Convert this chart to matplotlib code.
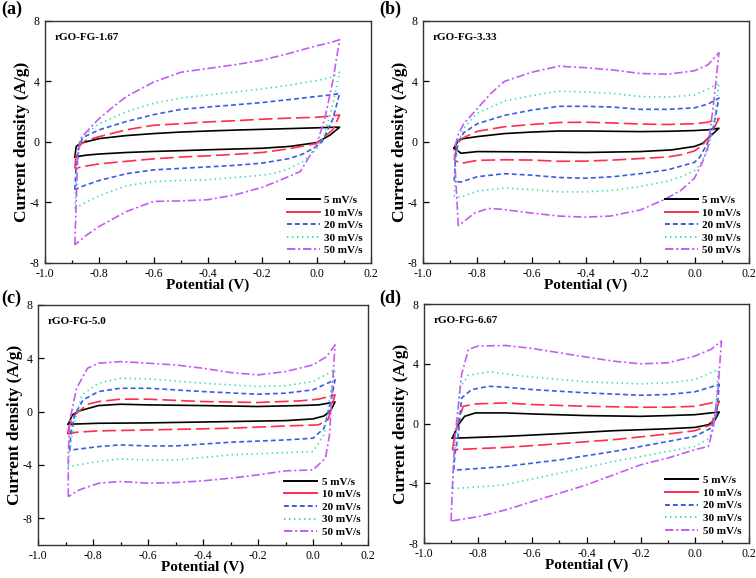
import matplotlib

matplotlib.use("Agg")

import matplotlib.pyplot as plt
from matplotlib.lines import Line2D
from matplotlib.ticker import MultipleLocator

RATES = ["5 mV/s", "10 mV/s", "20 mV/s", "30 mV/s", "50 mV/s"]
SAMPLES = ["rGO-FG-1.67", "rGO-FG-3.33", "rGO-FG-5.0", "rGO-FG-6.67"]
PANEL_TAGS = ["(a)", "(b)", "(c)", "(d)"]

# each loop: anodic branch left->right, then cathodic branch back to the start
POT_A = [
    [-0.89, -0.885, -0.87, -0.85, -0.8, -0.7, -0.6, -0.5, -0.4, -0.3, -0.2, -0.1, 0.0, 0.05, 0.085,
     0.05, 0.0, -0.1, -0.2, -0.3, -0.4, -0.5, -0.6, -0.7, -0.8, -0.85, -0.89],
    [-0.89, -0.885, -0.87, -0.85, -0.8, -0.7, -0.6, -0.5, -0.4, -0.3, -0.2, -0.1, 0.0, 0.05, 0.085,
     0.06, 0.0, -0.1, -0.2, -0.3, -0.4, -0.5, -0.6, -0.7, -0.8, -0.85, -0.89],
    [-0.89, -0.885, -0.875, -0.86, -0.8, -0.7, -0.6, -0.5, -0.4, -0.3, -0.2, -0.1, 0.0, 0.05, 0.085,
     0.06, 0.02, 0.0, -0.05, -0.1, -0.15, -0.2, -0.3, -0.4, -0.5, -0.6, -0.7, -0.8, -0.85, -0.89],
    [-0.89, -0.885, -0.875, -0.86, -0.8, -0.7, -0.6, -0.5, -0.4, -0.3, -0.2, -0.1, 0.0, 0.05, 0.085,
     0.06, 0.03, 0.0, -0.05, -0.1, -0.15, -0.2, -0.3, -0.4, -0.5, -0.6, -0.7, -0.8, -0.85, -0.89],
    [-0.89, -0.885, -0.88, -0.87, -0.82, -0.8, -0.75, -0.7, -0.6, -0.5, -0.4, -0.3, -0.2, -0.1, 0.0, 0.05, 0.085,
     0.06, 0.03, 0.0, -0.06, -0.13, -0.2, -0.3, -0.4, -0.5, -0.6, -0.7, -0.8, -0.85, -0.89],
]
CUR_A = [
    [-1.0, -0.3, -0.1, 0.0, 0.22, 0.42, 0.55, 0.65, 0.72, 0.78, 0.83, 0.88, 0.93, 0.96, 0.97,
     0.45, -0.05, -0.3, -0.42, -0.47, -0.52, -0.58, -0.63, -0.7, -0.8, -0.88, -1.0],
    [-1.75, -0.8, -0.2, 0.1, 0.35, 0.8, 1.1, 1.2, 1.32, 1.4, 1.5, 1.57, 1.63, 1.7, 1.78,
     0.8, -0.1, -0.45, -0.7, -0.82, -0.92, -1.0, -1.12, -1.28, -1.45, -1.6, -1.75],
    [-3.15, -1.5, -0.3, 0.3, 0.8, 1.35, 1.8, 2.15, 2.3, 2.45, 2.6, 2.8, 3.0, 3.1, 3.2,
     1.5, 0.0, -0.3, -0.8, -1.1, -1.25, -1.4, -1.55, -1.65, -1.75, -1.85, -2.1, -2.55, -2.85, -3.15],
    [-4.4, -2.5, -0.5, 0.4, 1.2, 2.0, 2.55, 2.9, 3.1, 3.3, 3.5, 3.75, 4.05, 4.25, 4.6,
     2.5, 0.5, -0.5, -1.3, -1.75, -2.05, -2.2, -2.35, -2.5, -2.55, -2.62, -2.9, -3.55, -4.0, -4.4],
    [-6.8, -4.0, -1.0, 0.2, 1.2, 1.55, 2.3, 3.0, 3.95, 4.6, 4.85, 5.1, 5.4, 5.85, 6.35, 6.55, 6.75,
     4.0, 1.5, -0.2, -1.96, -2.5, -3.0, -3.5, -3.82, -3.9, -3.93, -4.6, -5.58, -6.2, -6.8],
]

POT_B = [
    [-0.885, -0.87, -0.85, -0.8, -0.7, -0.6, -0.5, -0.4, -0.3, -0.2, -0.1, 0.0, 0.05, 0.09,
     0.05, 0.03, 0.0, -0.085, -0.2, -0.4, -0.6, -0.8, -0.86, -0.885],
    [-0.885, -0.875, -0.86, -0.8, -0.7, -0.6, -0.5, -0.4, -0.3, -0.2, -0.1, 0.0, 0.05, 0.09,
     0.06, 0.03, 0.0, -0.05, -0.1, -0.2, -0.3, -0.4, -0.5, -0.6, -0.7, -0.8, -0.86, -0.885],
    [-0.885, -0.88, -0.87, -0.85, -0.8, -0.7, -0.6, -0.5, -0.4, -0.3, -0.2, -0.1, 0.0, 0.05, 0.09,
     0.07, 0.05, 0.02, 0.0, -0.05, -0.1, -0.2, -0.3, -0.4, -0.5, -0.6, -0.7, -0.8, -0.86, -0.885],
    [-0.885, -0.88, -0.87, -0.85, -0.8, -0.7, -0.6, -0.5, -0.4, -0.3, -0.2, -0.1, 0.0, 0.05, 0.09,
     0.07, 0.05, 0.02, 0.0, -0.05, -0.1, -0.2, -0.3, -0.4, -0.5, -0.6, -0.7, -0.8, -0.86, -0.885],
    [-0.87, -0.885, -0.87, -0.85, -0.8, -0.75, -0.7, -0.6, -0.5, -0.4, -0.3, -0.2, -0.1, 0.0, 0.05, 0.09,
     0.07, 0.05, 0.03, 0.0, -0.05, -0.11, -0.2, -0.31, -0.4, -0.5, -0.6, -0.71, -0.76, -0.81, -0.87],
]
CUR_B = [
    [-0.4, 0.1, 0.22, 0.35, 0.55, 0.65, 0.72, 0.72, 0.7, 0.68, 0.7, 0.75, 0.8, 0.9,
     0.24, -0.1, -0.3, -0.53, -0.64, -0.7, -0.66, -0.64, -0.75, -0.4],
    [-1.2, -0.3, 0.2, 0.7, 1.0, 1.15, 1.28, 1.3, 1.25, 1.18, 1.15, 1.2, 1.3, 1.55,
     0.5, -0.2, -0.6, -0.85, -1.0, -1.1, -1.2, -1.27, -1.28, -1.2, -1.18, -1.22, -1.42, -1.2],
    [-2.6, -1.0, 0.0, 0.6, 1.2, 1.75, 2.1, 2.35, 2.35, 2.3, 2.15, 2.15, 2.25, 2.5, 2.9,
     1.0, 0.0, -1.0, -1.35, -1.6, -1.85, -2.1, -2.3, -2.4, -2.35, -2.2, -2.1, -2.3, -2.65, -2.6],
    [-3.6, -1.5, 0.0, 0.9, 1.9, 2.7, 3.05, 3.35, 3.3, 3.2, 3.0, 2.95, 3.1, 3.5, 3.9,
     1.0, -0.5, -1.5, -1.9, -2.3, -2.6, -2.95, -3.2, -3.3, -3.3, -3.15, -3.05, -3.25, -3.65, -3.6],
    [-5.55, -0.5, 0.5, 1.2, 2.2, 3.2, 4.0, 4.6, 5.0, 4.9, 4.75, 4.52, 4.47, 4.7, 5.1, 5.9,
     2.5, -0.3, -1.3, -2.4, -3.2, -3.8, -4.5, -4.9, -4.97, -4.9, -4.7, -4.45, -4.4, -4.7, -5.55],
]

POT_C = [
    [-0.89, -0.875, -0.85, -0.78, -0.7, -0.6, -0.4, -0.2, -0.05, 0.02, 0.08,
     0.065, 0.04, 0.0, -0.1, -0.3, -0.6, -0.78, -0.89],
    [-0.893, -0.885, -0.867, -0.82, -0.78, -0.7, -0.6, -0.4, -0.2, -0.05, 0.02, 0.08,
     0.055, 0.02, -0.1, -0.3, -0.6, -0.78, -0.86, -0.893],
    [-0.885, -0.88, -0.867, -0.836, -0.78, -0.7, -0.6, -0.4, -0.2, -0.1, 0.0, 0.08,
     0.065, 0.04, 0.0, -0.1, -0.3, -0.5, -0.6, -0.7, -0.78, -0.885],
    [-0.89, -0.88, -0.867, -0.84, -0.78, -0.7, -0.6, -0.4, -0.2, -0.1, 0.0, 0.08,
     0.06, 0.04, 0.0, -0.1, -0.3, -0.5, -0.6, -0.7, -0.78, -0.89],
    [-0.89, -0.89, -0.885, -0.86, -0.82, -0.78, -0.7, -0.6, -0.5, -0.4, -0.3, -0.2, -0.1, 0.0, 0.05, 0.08,
     0.07, 0.06, 0.045, 0.0, -0.1, -0.2, -0.3, -0.4, -0.5, -0.6, -0.7, -0.78, -0.85, -0.89],
]
CUR_C = [
    [-0.95, -0.25, 0.05, 0.45, 0.55, 0.5, 0.45, 0.38, 0.45, 0.5, 0.72,
     0.1, -0.33, -0.55, -0.68, -0.75, -0.85, -0.88, -0.95],
    [-1.68, -1.0, -0.25, 0.55, 0.75, 0.93, 0.93, 0.75, 0.68, 0.8, 0.93, 1.25,
     -0.6, -1.0, -1.08, -1.25, -1.38, -1.45, -1.55, -1.68],
    [-2.9, -1.5, -0.25, 0.88, 1.5, 1.75, 1.75, 1.5, 1.3, 1.38, 1.63, 2.38,
     0.75, -1.25, -2.0, -2.13, -2.3, -2.58, -2.58, -2.5, -2.63, -2.9],
    [-4.13, -2.25, -0.75, 1.25, 2.13, 2.5, 2.45, 2.13, 1.88, 1.95, 2.25, 3.13,
     1.0, -1.75, -3.0, -3.08, -3.25, -3.63, -3.63, -3.55, -3.75, -4.13],
    [-6.38, -3.25, -0.75, 1.75, 3.25, 3.63, 3.75, 3.63, 3.5, 3.25, 2.93, 2.75, 3.0, 3.5, 4.13, 5.0,
     1.75, -1.75, -3.5, -4.38, -4.45, -4.75, -5.0, -5.2, -5.33, -5.38, -5.25, -5.38, -5.88, -6.38],
]

POT_D = [
    [-0.895, -0.873, -0.85, -0.81, -0.7, -0.6, -0.4, -0.2, -0.1, 0.0, 0.09,
     0.075, 0.05, 0.0, -0.1, -0.3, -0.5, -0.7, -0.873, -0.895],
    [-0.895, -0.886, -0.873, -0.855, -0.81, -0.7, -0.6, -0.4, -0.2, -0.1, 0.0, 0.09,
     0.06, 0.0, -0.1, -0.3, -0.5, -0.7, -0.873, -0.895],
    [-0.89, -0.886, -0.873, -0.861, -0.824, -0.76, -0.7, -0.6, -0.4, -0.2, -0.1, 0.0, 0.09,
     0.08, 0.06, 0.0, -0.1, -0.3, -0.5, -0.7, -0.873, -0.89],
    [-0.895, -0.892, -0.88, -0.867, -0.836, -0.76, -0.7, -0.6, -0.4, -0.2, -0.1, 0.0, 0.086,
     0.075, 0.055, 0.0, -0.1, -0.3, -0.5, -0.7, -0.873, -0.895],
    [-0.9, -0.895, -0.886, -0.861, -0.836, -0.8, -0.7, -0.6, -0.5, -0.4, -0.3, -0.2, -0.1, 0.0, 0.06, 0.098,
     0.086, 0.068, 0.05, 0.0, -0.1, -0.2, -0.3, -0.4, -0.5, -0.6, -0.7, -0.8, -0.9],
]
CUR_D = [
    [-0.96, -0.07, 0.49, 0.72, 0.72, 0.65, 0.54, 0.49, 0.54, 0.6, 0.78,
     0.27, -0.07, -0.25, -0.34, -0.47, -0.67, -0.85, -0.96, -0.96],
    [-1.74, -0.74, 0.16, 1.16, 1.32, 1.39, 1.28, 1.16, 1.1, 1.1, 1.16, 1.5,
     -0.07, -0.47, -0.69, -1.07, -1.34, -1.59, -1.72, -1.74],
    [-3.09, -2.08, -0.74, 1.72, 2.28, 2.5, 2.44, 2.28, 2.06, 1.9, 1.95, 2.13, 2.62,
     0.6, -0.29, -0.85, -1.19, -1.86, -2.42, -2.86, -3.09, -3.09],
    [-4.32, -2.75, -0.96, 2.4, 3.24, 3.47, 3.33, 3.11, 2.8, 2.66, 2.73, 2.95, 3.62,
     0.6, -0.96, -1.52, -1.86, -2.53, -3.31, -4.09, -4.32, -4.32],
    [-6.51, -4.3, -0.96, 3.29, 4.97, 5.19, 5.23, 5.03, 4.74, 4.45, 4.18, 4.0, 4.07, 4.52, 4.97, 5.53,
     2.4, -0.29, -1.52, -1.74, -2.3, -2.75, -3.42, -4.09, -4.65, -5.21, -5.77, -6.22, -6.51],
]

Y_LIMITS = [(-8, 8), (-8, 8), (-10, 8), (-8, 8)]

COLORS = ["#000000", "#ff2d4f", "#3a5ce0", "#33e0a8", "#c45cf2"]
DASHES = [None, (10, 3.5), (3.5, 2.2), (1, 2.6), (6, 2, 1.5, 2)]

# axes boxes in figure fractions (left, bottom, width, height)
BOXES = [
    (0.0595, 0.545, 0.431, 0.419),
    (0.5595, 0.545, 0.431, 0.419),
    (0.0503, 0.0574, 0.4365, 0.415),
    (0.5608, 0.0600, 0.430, 0.414),
]
TAG_POS = [(0.002, 0.998), (0.502, 0.998), (0.002, 0.498), (0.502, 0.498)]

plt.rcParams["font.family"] = ["Liberation Serif", "DejaVu Serif"]
plt.rcParams["axes.unicode_minus"] = False
plt.rcParams["lines.scale_dashes"] = False

fig = plt.figure(figsize=(7.56, 5.78), dpi=100)

all_pot = [POT_A, POT_B, POT_C, POT_D]
all_cur = [CUR_A, CUR_B, CUR_C, CUR_D]

for k in range(4):
    ax = fig.add_axes(BOXES[k])
    for j in range(5):
        line, = ax.plot(all_pot[k][j], all_cur[k][j], color=COLORS[j], linewidth=1.2,
                        solid_joinstyle="round", dash_joinstyle="round")
        if DASHES[j] is not None:
            line.set_dashes(DASHES[j])

    ax.set_xlim(-1.0, 0.2)
    ax.set_ylim(*Y_LIMITS[k])
    ax.xaxis.set_major_locator(MultipleLocator(0.2))
    ax.xaxis.set_minor_locator(MultipleLocator(0.1))
    ax.yaxis.set_major_locator(MultipleLocator(4))
    ax.xaxis.set_major_formatter(lambda v, p: f"{v:.1f}")
    ax.tick_params(which="both", direction="in", top=False, right=False, labelsize=8.5)
    ax.tick_params(axis="x", pad=3.5)
    ax.tick_params(axis="y", pad=4)
    ax.tick_params(which="major", length=4, width=0.9)
    ax.tick_params(which="minor", length=2.5, width=0.9)
    for sp in ax.spines.values():
        sp.set_linewidth(1.0)
        sp.set_color("#333333")

    ax.set_xlabel("Potential (V)", fontsize=11, fontweight="bold", labelpad=-1)
    ax.set_ylabel("Current density (A/g)", fontsize=12.5, fontweight="bold", labelpad=0)

    ax.text(0.03, 0.95, SAMPLES[k], transform=ax.transAxes, ha="left", va="top",
            fontsize=8, fontweight="bold")

    handles = []
    for j in range(5):
        h = Line2D([], [], color=COLORS[j], linewidth=1.4)
        if DASHES[j] is not None and j != 1:
            h.set_dashes(DASHES[j])
        handles.append(h)
    ax.legend(handles, RATES, loc="lower right", frameon=False,
              prop={"weight": "bold", "size": 8}, handlelength=3.0,
              handletextpad=0.4, labelspacing=0.25, borderaxespad=0.3)

    fig.text(TAG_POS[k][0], TAG_POS[k][1], PANEL_TAGS[k], ha="left", va="top",
             fontsize=13, fontweight="bold")

fig.savefig("out.png", dpi=100)
